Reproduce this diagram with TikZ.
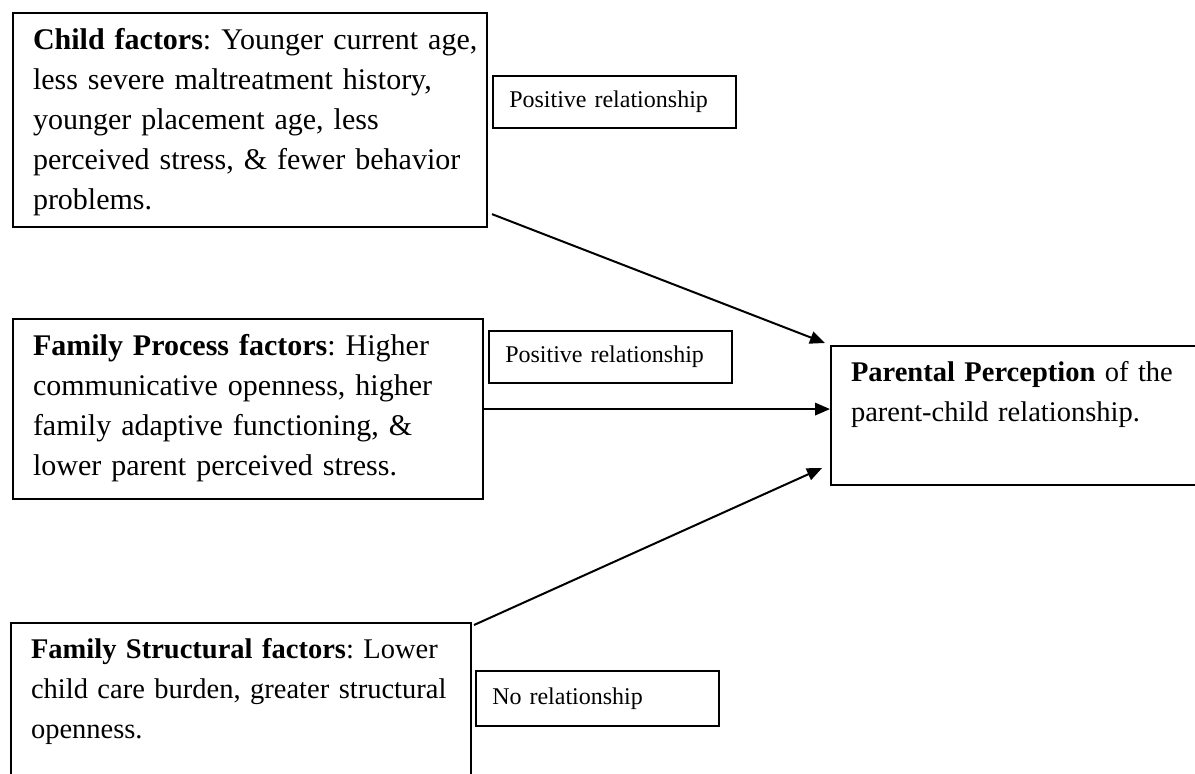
\documentclass[tikz,border=0pt]{standalone}
\usepackage{fontspec}
\setmainfont{Liberation Serif}
\usetikzlibrary{arrows.meta}
\frenchspacing
\tikzset{
  factor/.style={draw, line width=0.8pt, anchor=north west, align=left, inner xsep=8pt, inner ysep=6pt, font=\fontsize{12}{16}\selectfont},
  tag/.style={draw, line width=0.8pt, anchor=north west, align=left, inner xsep=6.5pt, text width=84.2pt, minimum height=20.8pt, font=\fontsize{9.6}{12}\selectfont},
  link/.style={-{Triangle[length=6pt,width=5pt]}, line width=0.8pt}
}

\begin{document}
\begin{tikzpicture}[x=0.4pt,y=-0.4pt]
    \useasboundingbox (0,0) rectangle (1195,774);
    \clip (0,0) rectangle (1195,774);

    \node[factor, text width=173.6pt, text depth=65.2pt] (child) at (12,12) {\mbox{\textbf{Child factors}: Younger current age,}\\ less severe maltreatment history,\\ younger placement age, less\\ perceived stress, \& fewer behavior\\ problems.};
    \node[factor, text width=172pt, text depth=51.6pt] (process) at (12,318) {\textbf{Family Process factors}: Higher\\ communicative openness, higher\\ family adaptive functioning, \&\\ lower parent perceived stress.};
    \node[factor, text width=168pt, text depth=64pt, font=\fontsize{11.4}{16}\selectfont] (struct) at (10,622) {\mbox{\textbf{Family Structural factors}: Lower}\\ \mbox{child care burden, greater structural}\\ openness.};
    \node[factor, text width=160pt, text depth=35.6pt, font=\fontsize{11.4}{16}\selectfont] (parent) at (830,345) {\textbf{Parental Perception} of the\\ parent-child relationship.};

    \node[tag] (tagchild) at (492,75) {Positive relationship};
    \node[tag] (tagprocess) at (488,330) {Positive relationship};
    \node[tag, minimum height=22pt] (tagstruct) at (475,670) {No relationship};

    \draw[link] ([shift={(4,-14)}]child.south east) -- ([shift={(-5,-2)}]parent.north west);
    \draw[link] (process.east) -- (process.east -| parent.west);
    \draw[link] ([shift={(2,3)}]struct.north east) -- ([shift={(-8,-18)}]parent.south west);
\end{tikzpicture}
\end{document}
